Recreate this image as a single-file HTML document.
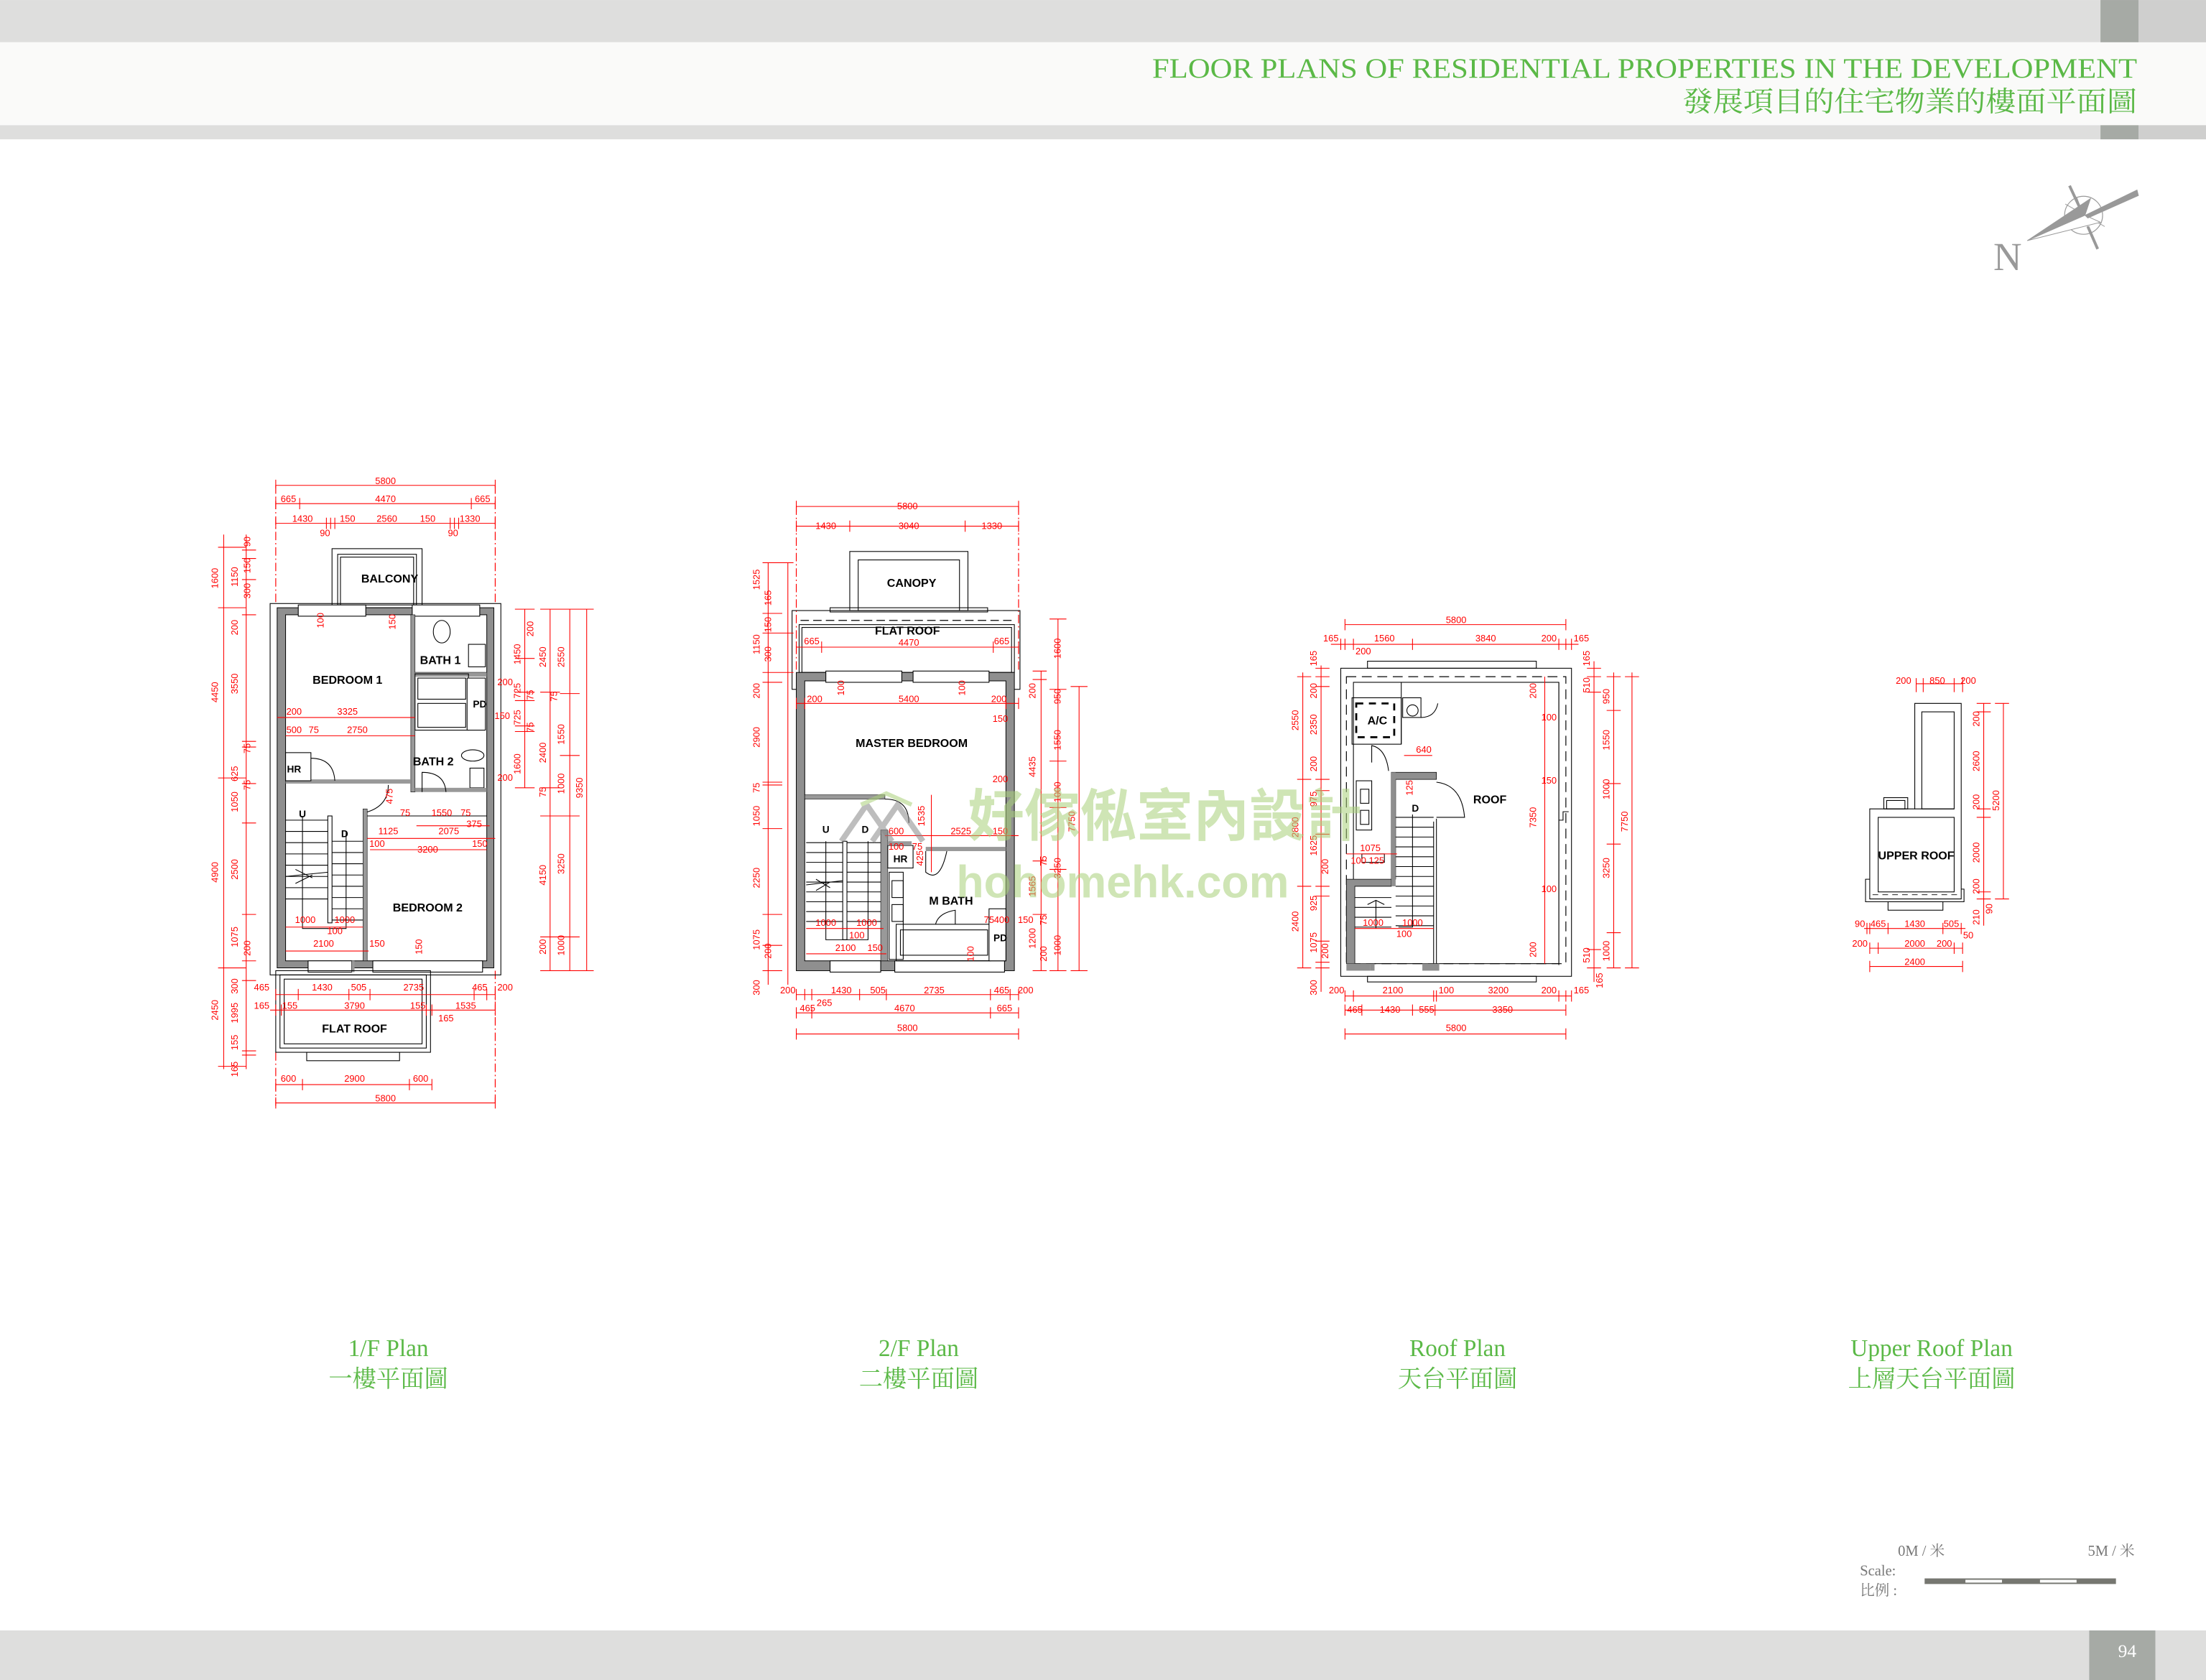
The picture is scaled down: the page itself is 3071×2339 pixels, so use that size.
<!DOCTYPE html>
<html><head><meta charset="utf-8">
<style>
html,body{margin:0;padding:0;background:#fff;}
svg{display:block;}
.d{stroke:#f00;stroke-width:.55;fill:none}
.dd{stroke:#f00;stroke-width:.6;fill:none;stroke-dasharray:6 2 1 2}
.t{fill:#f00;font-family:"Liberation Sans",sans-serif;font-size:6.6px;text-anchor:middle}
.k{stroke:#000;stroke-width:.55;fill:none}
.kf{stroke:#000;stroke-width:.55;fill:#fff}
.lb{font-family:"Liberation Sans",sans-serif;font-weight:bold;font-size:8.2px;text-anchor:middle;fill:#000}
.g{fill:#5bb947;font-family:"Liberation Serif","Noto Serif CJK SC",serif;text-anchor:middle}
.gc{fill:#5bb947;font-family:"Liberation Serif","Noto Serif CJK TC","Noto Sans CJK TC",serif;text-anchor:middle}
</style></head>
<body>
<svg width="3071" height="2339" viewBox="0 0 1568 1194.2" xmlns="http://www.w3.org/2000/svg">
<!-- header -->
<rect x="0" y="0" width="1568" height="30" fill="#dededd"/>
<rect x="0" y="30" width="1568" height="59" fill="#fafaf9"/>
<rect x="0" y="89" width="1568" height="10" fill="#dededd"/>
<rect x="1493" y="0" width="27" height="30" fill="#a6aaa5"/>
<rect x="1520" y="0" width="48" height="30" fill="#cfcfce"/>
<rect x="1493" y="89" width="27" height="10" fill="#a6aaa5"/>
<rect x="1520" y="89" width="48" height="10" fill="#cfcfce"/>
<text x="819" y="55" textLength="700" lengthAdjust="spacingAndGlyphs" style="fill:#5bb947;font-family:'Liberation Serif',serif;font-size:20px">FLOOR PLANS OF RESIDENTIAL PROPERTIES IN THE DEVELOPMENT</text>
<text x="1196" y="79" textLength="323" lengthAdjust="spacingAndGlyphs" style="fill:#5bb947;font-family:'Liberation Serif','Noto Serif CJK TC',serif;font-size:20px">發展項目的住宅物業的樓面平面圖</text>

<!-- compass -->
<g fill="#999" stroke="#999">
<circle cx="1481" cy="153" r="13.5" fill="none" stroke-width=".6"/>
<line x1="1468" y1="145" x2="1496" y2="161" stroke-width=".5"/>
<line x1="1476" y1="140" x2="1486" y2="167" stroke-width=".5"/>
<line x1="1471" y1="132" x2="1478" y2="147" stroke-width="2"/>
<line x1="1484" y1="161" x2="1491" y2="177" stroke-width="2"/>
<polygon points="1441,171 1486,141 1482,153" stroke-width=".4"/>
<polygon points="1441,171 1482,153 1493,158" fill="#fff" stroke-width=".5"/>
<polygon points="1482,153 1519,135 1520,139 1484,155" stroke-width=".4"/>
</g>
<text x="1427" y="192" style="font-family:'Liberation Serif',serif;font-size:28px;fill:#999;text-anchor:middle">N</text>

<!-- ========== 1/F PLAN ========== -->
<g>
<line class="d" x1="196" y1="345" x2="352" y2="345"/>
<line class="d" x1="196" y1="358" x2="352" y2="358"/>
<line class="d" x1="196" y1="372" x2="352" y2="372"/>
<g class="d"><path d="M196 341v6M352 341v6M196 354v8M213 354v8M335 354v8M352 354v8M196 368v8M232 368v8M235 368v8M238 368v8M320 368v8M323 368v8M326 368v8M352 368v8"/></g>
<text class="t" x="274" y="344">5800</text>
<text class="t" x="205" y="357">665</text><text class="t" x="274" y="357">4470</text><text class="t" x="343" y="357">665</text>
<text class="t" x="215" y="371">1430</text><text class="t" x="247" y="371">150</text><text class="t" x="275" y="371">2560</text><text class="t" x="304" y="371">150</text><text class="t" x="334" y="371">1330</text>
<text class="t" x="231" y="381">90</text><text class="t" x="322" y="381">90</text>
<line class="dd" x1="196" y1="345" x2="196" y2="430"/>
<line class="dd" x1="352" y1="345" x2="352" y2="430"/>
<line class="dd" x1="352" y1="690" x2="352" y2="786"/>
<line class="dd" x1="196" y1="748" x2="196" y2="786"/>
<rect class="k" x="236" y="390" width="64" height="42"/>
<rect class="k" x="240" y="394" width="56" height="36"/>
<rect class="k" x="242" y="396" width="52" height="36"/>
<text class="lb" x="277" y="414">BALCONY</text>
<rect x="192" y="429" width="164" height="264" class="k"/>
<rect x="197" y="432" width="154" height="256" fill="#8f8f8f" stroke="#000" stroke-width=".5"/>
<rect x="203" y="437" width="143" height="246" fill="#fff" stroke="#000" stroke-width=".5"/>
<rect x="212" y="430" width="48" height="8" class="kf"/>
<rect x="293" y="430" width="48" height="8" class="kf"/>
<rect x="219" y="683" width="31" height="8" class="kf"/>
<rect x="250" y="683" width="2" height="8" fill="#999"/>
<rect x="265" y="683" width="78" height="8" class="kf"/>
<rect x="292" y="437" width="3" height="126" fill="#999" stroke="#000" stroke-width=".3"/>
<line class="k" x1="295" y1="478" x2="346" y2="478"/>
<rect x="295" y="478" width="51" height="3" fill="#999"/>
<rect x="295" y="479" width="38" height="40" class="k"/>
<rect x="297" y="482" width="34" height="15" class="kf"/>
<rect x="297" y="500" width="34" height="17" class="kf"/>
<rect x="332" y="482" width="13" height="37" class="kf" stroke-width=".8"/>
<text class="lb" x="341" y="503" style="font-size:7px">PD</text>
<rect x="333" y="458" width="12" height="16" class="kf"/>
<ellipse cx="314" cy="449" rx="6" ry="8" class="k"/>
<ellipse cx="336" cy="537" rx="8" ry="4" class="k"/>
<rect x="334" y="546" width="10" height="14" class="kf"/>
<rect x="295" y="560" width="51" height="3" fill="#999"/>
<rect x="203" y="554" width="89" height="3" fill="#999"/>
<rect x="203" y="535" width="18" height="20" class="kf" stroke-width=".9"/>
<text class="lb" x="209" y="549" style="font-size:7px">HR</text>
<path class="k" d="M221 539 q16 0 17 16"/>
<path class="k" d="M300 563 v-14 q16 0 17 14"/>
<path class="k" d="M258 578 q18 -4 18 -20"/>
<rect x="258" y="575" width="3" height="108" fill="#999" stroke="#000" stroke-width=".3"/>
<line class="k" x1="261" y1="580" x2="346" y2="580"/>
<g class="k">
<path d="M203 583h30M203 591h30M203 599h30M203 607h30M203 615h30M203 623h30M203 631h30M203 639h30"/>
<path d="M236 598h22M236 606h22M236 614h22M236 622h22M236 630h22M236 638h22M236 646h22M236 654h22"/>
<rect x="233" y="580" width="3" height="76"/>
<path d="M215 580v80h31v-69"/>
<path d="M203 623l30 -3M210 618l12 6M210 628l12 -6"/>
</g>
<text class="lb" x="247" y="486">BEDROOM 1</text>
<text class="lb" x="313" y="472">BATH 1</text>
<text class="lb" x="308" y="544">BATH 2</text>
<text class="lb" x="215" y="581" style="font-size:7px">U</text>
<text class="lb" x="245" y="595" style="font-size:7px">D</text>
<text class="lb" x="304" y="648">BEDROOM 2</text>
<line class="d" x1="197" y1="510" x2="295" y2="510"/>
<line class="d" x1="203" y1="523" x2="295" y2="523"/>
<text class="t" x="209" y="508">200</text><text class="t" x="247" y="508">3325</text>
<text class="t" x="209" y="521">500</text><text class="t" x="223" y="521">75</text><text class="t" x="254" y="521">2750</text>
<line class="d" x1="296" y1="587" x2="348" y2="587"/>
<text class="t" x="288" y="580">75</text><text class="t" x="314" y="580">1550</text><text class="t" x="331" y="580">75</text><text class="t" x="337" y="588">375</text>
<line class="d" x1="261" y1="596" x2="352" y2="596"/>
<text class="t" x="276" y="593">1125</text><text class="t" x="319" y="593">2075</text>
<line class="d" x1="263" y1="604" x2="346" y2="604"/>
<text class="t" x="268" y="602">100</text><text class="t" x="304" y="606">3200</text><text class="t" x="341" y="602">150</text>
<line class="d" x1="203" y1="659" x2="258" y2="659"/>
<text class="t" x="217" y="656">1000</text><text class="t" x="245" y="656">1000</text><text class="t" x="238" y="664">100</text>
<line class="d" x1="203" y1="676" x2="262" y2="676"/>
<text class="t" x="230" y="673">2100</text><text class="t" x="268" y="673">150</text>
<text class="t" x="359" y="487">200</text><text class="t" x="357" y="511">150</text><text class="t" x="359" y="555">200</text>
<text class="t" transform="translate(230,441) rotate(-90)">100</text>
<text class="t" transform="translate(281,442) rotate(-90)">150</text>
<text class="t" transform="translate(300,673) rotate(-90)">150</text>
<text class="t" transform="translate(279,566) rotate(-90)">475</text>
<line class="d" x1="159" y1="380" x2="159" y2="760"/>
<line class="d" x1="175" y1="380" x2="175" y2="760"/>
<g class="d"><path d="M155 389h20M155 432h20M155 553h20M155 688h20M155 758h20M172 391h10M172 397h10M172 412h10M172 437h10M172 527h10M172 531h10M172 557h10M172 585h10M172 650h10M172 683h10M172 697h10M172 747h10M172 750h10"/></g>
<g>
<text class="t" transform="translate(155,411) rotate(-90)">1600</text>
<text class="t" transform="translate(155,492) rotate(-90)">4450</text>
<text class="t" transform="translate(155,620) rotate(-90)">4900</text>
<text class="t" transform="translate(155,718) rotate(-90)">2450</text>
<text class="t" transform="translate(169,410) rotate(-90)">1150</text>
<text class="t" transform="translate(169,446) rotate(-90)">200</text>
<text class="t" transform="translate(169,486) rotate(-90)">3550</text>
<text class="t" transform="translate(169,550) rotate(-90)">625</text>
<text class="t" transform="translate(169,570) rotate(-90)">1050</text>
<text class="t" transform="translate(169,618) rotate(-90)">2500</text>
<text class="t" transform="translate(169,666) rotate(-90)">1075</text>
<text class="t" transform="translate(169,701) rotate(-90)">300</text>
<text class="t" transform="translate(169,720) rotate(-90)">1995</text>
<text class="t" transform="translate(169,741) rotate(-90)">155</text>
<text class="t" transform="translate(169,760) rotate(-90)">165</text>
<text class="t" transform="translate(178,385) rotate(-90)">90</text>
<text class="t" transform="translate(178,402) rotate(-90)">150</text>
<text class="t" transform="translate(178,420) rotate(-90)">300</text>
<text class="t" transform="translate(178,532) rotate(-90)">75</text>
<text class="t" transform="translate(178,558) rotate(-90)">75</text>
<text class="t" transform="translate(178,674) rotate(-90)">200</text>
</g>
<line class="d" x1="373" y1="433" x2="373" y2="560"/>
<line class="d" x1="391" y1="433" x2="391" y2="690"/>
<line class="d" x1="405" y1="433" x2="405" y2="690"/>
<line class="d" x1="417" y1="433" x2="417" y2="690"/>
<g class="d"><path d="M366 433h14M366 468h14M366 492h14M366 498h14M366 516h14M366 520h14M366 560h14M384 433h14M384 492h14M384 560h14M384 580h14M384 666h14M384 690h14M398 433h14M398 493h14M398 537h14M398 580h14M398 666h14M398 690h14M412 433h10M412 690h10"/></g>
<g>
<text class="t" transform="translate(379,447) rotate(-90)">200</text>
<text class="t" transform="translate(370,465) rotate(-90)">1450</text>
<text class="t" transform="translate(370,491) rotate(-90)">725</text>
<text class="t" transform="translate(379,494) rotate(-90)">75</text>
<text class="t" transform="translate(370,510) rotate(-90)">725</text>
<text class="t" transform="translate(379,517) rotate(-90)">75</text>
<text class="t" transform="translate(370,543) rotate(-90)">1600</text>
<text class="t" transform="translate(388,467) rotate(-90)">2450</text>
<text class="t" transform="translate(388,535) rotate(-90)">2400</text>
<text class="t" transform="translate(388,563) rotate(-90)">75</text>
<text class="t" transform="translate(388,622) rotate(-90)">4150</text>
<text class="t" transform="translate(388,673) rotate(-90)">200</text>
<text class="t" transform="translate(401,467) rotate(-90)">2550</text>
<text class="t" transform="translate(396,495) rotate(-90)">75</text>
<text class="t" transform="translate(401,522) rotate(-90)">1550</text>
<text class="t" transform="translate(401,557) rotate(-90)">1000</text>
<text class="t" transform="translate(401,614) rotate(-90)">3250</text>
<text class="t" transform="translate(401,672) rotate(-90)">1000</text>
<text class="t" transform="translate(414,560) rotate(-90)">9350</text>
</g>
<rect class="k" x="196" y="690" width="110" height="58"/>
<rect class="k" x="199" y="693" width="104" height="52"/>
<rect class="k" x="202" y="696" width="98" height="46"/>
<rect class="k" x="218" y="748" width="66" height="6"/>
<text class="lb" x="252" y="734">FLAT ROOF</text>
<line class="d" x1="196" y1="707" x2="352" y2="707"/>
<line class="d" x1="192" y1="718" x2="352" y2="718"/>
<g class="d"><path d="M196 703v8M212 703v8M248 703v8M263 703v8M337 703v8M346 703v8M352 703v8M196 714v8M200 714v8M303 714v8M307 714v8M352 714v8"/></g>
<text class="t" x="186" y="704">465</text><text class="t" x="229" y="704">1430</text><text class="t" x="255" y="704">505</text><text class="t" x="294" y="704">2735</text><text class="t" x="341" y="704">465</text><text class="t" x="359" y="704">200</text>
<text class="t" x="186" y="717">165</text><text class="t" x="206" y="717">155</text><text class="t" x="252" y="717">3790</text><text class="t" x="297" y="717">155</text><text class="t" x="331" y="717">1535</text><text class="t" x="317" y="726">165</text>
<line class="d" x1="196" y1="771" x2="307" y2="771"/>
<line class="d" x1="196" y1="784" x2="352" y2="784"/>
<g class="d"><path d="M196 767v8M215 767v8M291 767v8M307 767v8M196 780v8M352 780v8"/></g>
<text class="t" x="205" y="769">600</text><text class="t" x="252" y="769">2900</text><text class="t" x="299" y="769">600</text>
<text class="t" x="274" y="783">5800</text>
</g>

<!-- ========== 2/F PLAN ========== -->
<g>
<line class="d" x1="566" y1="360" x2="724" y2="360"/>
<line class="d" x1="566" y1="374" x2="724" y2="374"/>
<g class="d"><path d="M566 356v8M724 356v8M566 370v8M604 370v8M686 370v8M724 370v8"/></g>
<text class="t" x="645" y="362">5800</text>
<text class="t" x="587" y="376">1430</text><text class="t" x="646" y="376">3040</text><text class="t" x="705" y="376">1330</text>
<line class="dd" x1="566" y1="360" x2="566" y2="478"/>
<line class="dd" x1="724" y1="360" x2="724" y2="478"/>
<rect class="k" x="604" y="392" width="84" height="42"/>
<rect class="k" x="610" y="398" width="72" height="36"/>
<text class="lb" x="648" y="417">CANOPY</text>
<rect class="k" x="590" y="432" width="112" height="3"/>
<rect class="k" x="563" y="434" width="162" height="56"/>
<line x1="569" y1="441" x2="721" y2="441" stroke="#000" stroke-width=".6" stroke-dasharray="6 3"/>
<rect class="k" x="568" y="444" width="153" height="34"/>
<rect class="k" x="570" y="446" width="149" height="32"/>
<text class="lb" x="645" y="451">FLAT ROOF</text>
<line class="d" x1="566" y1="460" x2="724" y2="460"/>
<g class="d"><path d="M566 456v8M584 456v8M706 456v8M724 456v8"/></g>
<text class="t" x="577" y="458">665</text><text class="t" x="646" y="459">4470</text><text class="t" x="712" y="458">665</text>
<rect x="566" y="478" width="155" height="212" fill="#8f8f8f" stroke="#000" stroke-width=".5"/>
<rect x="572" y="484" width="143" height="199" fill="#fff" stroke="#000" stroke-width=".5"/>
<rect x="587" y="477" width="54" height="8" class="kf"/>
<rect x="649" y="477" width="54" height="8" class="kf"/>
<rect x="590" y="683" width="36" height="8" class="kf"/>
<rect x="636" y="683" width="78" height="8" class="kf"/>
<rect x="572" y="565" width="57" height="3" fill="#999" stroke="#000" stroke-width=".3"/>
<path class="k" d="M629 568 q17 0 17 17"/>
<rect x="626" y="590" width="5" height="93" fill="#999" stroke="#000" stroke-width=".3"/>
<rect x="631" y="601" width="18" height="16" class="kf" stroke-width=".9"/>
<text class="lb" x="640" y="613" style="font-size:7px">HR</text>
<rect x="631" y="598" width="17" height="3" fill="#999"/>
<rect x="658" y="602" width="57" height="3" fill="#999"/>
<path class="k" d="M658 605v15q10 8 15 -15"/>
<rect x="632" y="620" width="10" height="62" class="k"/>
<rect x="634" y="626" width="8" height="12" class="k"/><rect x="634" y="643" width="8" height="12" class="k"/>
<rect x="637" y="657" width="67" height="26" class="k"/>
<rect x="640" y="661" width="62" height="18" class="k"/>
<rect x="703" y="646" width="12" height="37" class="kf" stroke-width=".9"/>
<text class="lb" x="711" y="669" style="font-size:7px">PD</text>
<path class="k" d="M665 657q2 -8 14 -10v10"/>
<g class="k">
<path d="M573 599h26M573 606h26M573 613h26M573 620h26M573 627h26M573 634h26M573 641h26M573 648h26M573 655h26"/>
<path d="M602 599h24M602 606h24M602 613h24M602 620h24M602 627h24M602 634h24M602 641h24M602 648h24M602 655h24"/>
<rect x="599" y="598" width="3" height="70"/>
<path d="M587 598v70h30v-70"/>
<path d="M573 629l26 -3M580 625l10 6M580 633l10 -6"/>
</g>
<text class="lb" x="648" y="531">MASTER BEDROOM</text>
<text class="lb" x="587" y="592" style="font-size:7px">U</text>
<text class="lb" x="615" y="592" style="font-size:7px">D</text>
<text class="lb" x="676" y="643">M BATH</text>
<line class="d" x1="566" y1="500" x2="724" y2="500"/>
<g class="d"><path d="M566 496v8M572 496v8M715 496v8M724 496v8"/></g>
<text class="t" x="579" y="499">200</text><text class="t" x="646" y="499">5400</text><text class="t" x="710" y="499">200</text>
<text class="t" x="711" y="513">150</text><text class="t" x="711" y="556">200</text>
<line class="d" x1="629" y1="594" x2="724" y2="594"/>
<text class="t" x="637" y="593">600</text><text class="t" x="683" y="593">2525</text><text class="t" x="711" y="593">150</text>
<text class="t" x="637" y="604">100</text><text class="t" x="652" y="604">75</text>
<line class="d" x1="573" y1="660" x2="628" y2="660"/>
<text class="t" x="587" y="658">1000</text><text class="t" x="616" y="658">1000</text><text class="t" x="609" y="667">100</text>
<line class="d" x1="573" y1="678" x2="630" y2="678"/>
<text class="t" x="601" y="676">2100</text><text class="t" x="622" y="676">150</text>
<text class="t" x="703" y="656">75</text><text class="t" x="712" y="656">400</text><text class="t" x="729" y="656">150</text>
<text class="t" transform="translate(600,489) rotate(-90)">100</text>
<text class="t" transform="translate(686,489) rotate(-90)">100</text>
<text class="t" transform="translate(657,580) rotate(-90)">1535</text>
<text class="t" transform="translate(656,610) rotate(-90)">425</text>
<text class="t" transform="translate(692,678) rotate(-90)">100</text>
<line class="d" x1="662" y1="565" x2="662" y2="620"/>
<line class="d" x1="546" y1="400" x2="546" y2="700"/>
<line class="d" x1="560" y1="400" x2="560" y2="700"/>
<g class="d"><path d="M542 400h14M542 436h14M542 450h14M542 478h14M542 485h14M542 556h14M542 558h14M542 589h14M542 650h14M542 672h14M542 690h14M556 400h8M556 450h8M556 478h8"/></g>
<g>
<text class="t" transform="translate(540,412) rotate(-90)">1525</text>
<text class="t" transform="translate(540,458) rotate(-90)">1150</text>
<text class="t" transform="translate(540,491) rotate(-90)">200</text>
<text class="t" transform="translate(540,524) rotate(-90)">2900</text>
<text class="t" transform="translate(540,560) rotate(-90)">75</text>
<text class="t" transform="translate(540,580) rotate(-90)">1050</text>
<text class="t" transform="translate(540,624) rotate(-90)">2250</text>
<text class="t" transform="translate(540,668) rotate(-90)">1075</text>
<text class="t" transform="translate(540,702) rotate(-90)">300</text>
<text class="t" transform="translate(548,425) rotate(-90)">165</text>
<text class="t" transform="translate(548,444) rotate(-90)">150</text>
<text class="t" transform="translate(548,465) rotate(-90)">300</text>
<text class="t" transform="translate(548,676) rotate(-90)">200</text>
</g>
<line class="d" x1="740" y1="477" x2="740" y2="690"/>
<line class="d" x1="752" y1="440" x2="752" y2="690"/>
<line class="d" x1="767" y1="488" x2="767" y2="690"/>
<g class="d"><path d="M734 477h10M734 483h10M734 612h10M734 650h10M734 690h10M746 440h12M746 490h12M746 541h12M746 574h12M746 618h12M746 690h12M761 488h12M761 690h12"/></g>
<g>
<text class="t" transform="translate(736,491) rotate(-90)">200</text>
<text class="t" transform="translate(736,545) rotate(-90)">4435</text>
<text class="t" transform="translate(736,630) rotate(-90)">1565</text>
<text class="t" transform="translate(736,667) rotate(-90)">1200</text>
<text class="t" transform="translate(744,612) rotate(-90)">75</text>
<text class="t" transform="translate(744,654) rotate(-90)">75</text>
<text class="t" transform="translate(744,678) rotate(-90)">200</text>
<text class="t" transform="translate(754,461) rotate(-90)">1600</text>
<text class="t" transform="translate(754,495) rotate(-90)">950</text>
<text class="t" transform="translate(754,526) rotate(-90)">1550</text>
<text class="t" transform="translate(754,563) rotate(-90)">1000</text>
<text class="t" transform="translate(754,617) rotate(-90)">3250</text>
<text class="t" transform="translate(754,672) rotate(-90)">1000</text>
<text class="t" transform="translate(764,584) rotate(-90)">7750</text>
</g>
<line class="d" x1="566" y1="707" x2="724" y2="707"/>
<line class="d" x1="566" y1="720" x2="724" y2="720"/>
<line class="d" x1="566" y1="735" x2="724" y2="735"/>
<g class="d"><path d="M566 703v8M572 703v8M577 703v8M611 703v8M630 703v8M704 703v8M718 703v8M724 703v8M566 716v8M577 716v8M704 716v8M724 716v8M566 731v8M724 731v8"/></g>
<text class="t" x="560" y="706">200</text><text class="t" x="598" y="706">1430</text><text class="t" x="624" y="706">505</text><text class="t" x="664" y="706">2735</text><text class="t" x="712" y="706">465</text><text class="t" x="729" y="706">200</text>
<text class="t" x="586" y="715">265</text>
<text class="t" x="574" y="719">465</text><text class="t" x="643" y="719">4670</text><text class="t" x="714" y="719">665</text>
<text class="t" x="645" y="733">5800</text>
</g>

<!-- ========== ROOF PLAN ========== -->
<g>
<line class="d" x1="956" y1="444" x2="1113" y2="444"/>
<line class="d" x1="946" y1="458" x2="1122" y2="458"/>
<g class="d"><path d="M956 440v8M1113 440v8M953 454v8M956 454v8M962 454v8M1004 454v8M1108 454v8M1113 454v8M1117 454v8"/></g>
<text class="t" x="1035" y="443">5800</text>
<text class="t" x="946" y="456">165</text><text class="t" x="984" y="456">1560</text><text class="t" x="1056" y="456">3840</text><text class="t" x="1101" y="456">200</text><text class="t" x="1124" y="456">165</text><text class="t" x="969" y="465">200</text>
<rect class="k" x="972" y="470" width="120" height="5"/>
<rect class="k" x="953" y="475" width="164" height="219"/>
<path d="M957 481H1113V685H957Z" fill="none" stroke="#000" stroke-width=".6" stroke-dasharray="7 4"/>
<rect class="k" x="962" y="485" width="146" height="200"/>
<rect class="k" x="972" y="694" width="120" height="4"/>
<rect class="k" x="961" y="496" width="35" height="33"/>
<rect x="964" y="500" width="27" height="24" fill="none" stroke="#000" stroke-width="1.4" stroke-dasharray="5 4"/>
<text class="lb" x="979" y="515">A/C</text>
<line class="k" x1="996" y1="485" x2="996" y2="529"/>
<rect class="k" x="997" y="496" width="13" height="14"/>
<circle class="k" cx="1004" cy="505" r="4"/>
<path class="k" d="M1010 510q10 0 12 -10"/>
<path d="M989 549h32v5h-29v71h-1v0h-2v5h-26v55h-6v-60h32z" fill="#8f8f8f" stroke="#000" stroke-width=".4"/>
<rect x="989" y="549" width="3" height="81" fill="#8f8f8f"/>
<rect x="957" y="685" width="17" height="5" fill="#8f8f8f"/>
<rect x="974" y="685" width="3" height="5" fill="#8f8f8f"/>
<rect x="1011" y="685" width="12" height="5" fill="#8f8f8f"/>
<path class="k" d="M1021 556q18 2 20 25h-20"/>
<path class="k" d="M975 542v-12q10 2 12 18"/>
<rect class="k" x="964" y="555" width="11" height="35"/>
<rect class="k" x="967" y="561" width="6" height="10"/><rect class="k" x="967" y="576" width="6" height="10"/>
<rect class="k" x="968" y="607" width="16" height="6"/>
<g class="k">
<path d="M992 581h27M992 588h27M992 595h27M992 602h27M992 609h27M992 616h27M992 623h27M992 630h27M992 637h27M992 644h27M992 651h27M992 658h27"/>
<path d="M963 638h26M963 645h26M963 652h26M963 659h26"/>
<path d="M1004 579v80h-10"/>
<path d="M1019 584v101M1021 582v103"/>
<path d="M978 640v20"/>
<path d="M972 643l6 -3 6 3"/>
</g>
<text class="lb" x="1006" y="577" style="font-size:7px">D</text>
<text class="lb" x="1059" y="571">ROOF</text>
<line class="d" x1="998" y1="537" x2="1018" y2="537"/>
<text class="t" x="1012" y="535">640</text>
<line class="d" x1="957" y1="607" x2="993" y2="607"/>
<text class="t" x="974" y="605">1075</text><text class="t" x="972" y="614">100 125</text>
<line class="d" x1="963" y1="660" x2="1019" y2="660"/>
<text class="t" x="976" y="658">1000</text><text class="t" x="1004" y="658">1000</text><text class="t" x="998" y="666">100</text>
<text class="t" transform="translate(1004,560) rotate(-90)">125</text>
<line class="d" x1="1098" y1="481" x2="1098" y2="685"/>
<text class="t" transform="translate(1092,491) rotate(-90)">200</text>
<text class="t" transform="translate(1092,581) rotate(-90)">7350</text>
<text class="t" transform="translate(1092,675) rotate(-90)">200</text>
<text class="t" x="1101" y="512">100</text><text class="t" x="1101" y="557">150</text><text class="t" x="1101" y="634">100</text>
<path class="k" d="M1108 485v98h3v-6h4M1108 583v103"/>
<line class="d" x1="926" y1="478" x2="926" y2="688"/>
<line class="d" x1="939" y1="473" x2="939" y2="705"/>
<g class="d"><path d="M922 481h10M922 554h10M922 630h10M922 688h10M935 475h10M935 481h10M935 488h10M935 554h10M935 562h10M935 593h10M935 630h10M935 637h10M935 669h10M935 684h10M935 688h10"/></g>
<g>
<text class="t" transform="translate(923,512) rotate(-90)">2550</text>
<text class="t" transform="translate(923,588) rotate(-90)">2800</text>
<text class="t" transform="translate(923,655) rotate(-90)">2400</text>
<text class="t" transform="translate(936,468) rotate(-90)">165</text>
<text class="t" transform="translate(936,491) rotate(-90)">200</text>
<text class="t" transform="translate(936,515) rotate(-90)">2350</text>
<text class="t" transform="translate(936,543) rotate(-90)">200</text>
<text class="t" transform="translate(936,568) rotate(-90)">975</text>
<text class="t" transform="translate(936,601) rotate(-90)">1625</text>
<text class="t" transform="translate(944,616) rotate(-90)">200</text>
<text class="t" transform="translate(936,642) rotate(-90)">925</text>
<text class="t" transform="translate(936,670) rotate(-90)">1075</text>
<text class="t" transform="translate(944,676) rotate(-90)">200</text>
<text class="t" transform="translate(936,702) rotate(-90)">300</text>
</g>
<line class="d" x1="1133" y1="470" x2="1133" y2="698"/>
<line class="d" x1="1147" y1="478" x2="1147" y2="688"/>
<line class="d" x1="1160" y1="478" x2="1160" y2="688"/>
<g class="d"><path d="M1128 475h10M1128 481h10M1128 492h10M1128 675h10M1128 688h10M1142 481h10M1142 505h10M1142 557h10M1142 600h10M1142 663h10M1142 688h10M1155 481h10M1155 688h10"/></g>
<g>
<text class="t" transform="translate(1130,468) rotate(-90)">165</text>
<text class="t" transform="translate(1130,487) rotate(-90)">510</text>
<text class="t" transform="translate(1130,679) rotate(-90)">510</text>
<text class="t" transform="translate(1139,697) rotate(-90)">165</text>
<text class="t" transform="translate(1144,495) rotate(-90)">950</text>
<text class="t" transform="translate(1144,526) rotate(-90)">1550</text>
<text class="t" transform="translate(1144,561) rotate(-90)">1000</text>
<text class="t" transform="translate(1144,617) rotate(-90)">3250</text>
<text class="t" transform="translate(1144,676) rotate(-90)">1000</text>
<text class="t" transform="translate(1157,584) rotate(-90)">7750</text>
</g>
<line class="d" x1="956" y1="708" x2="1117" y2="708"/>
<line class="d" x1="956" y1="718" x2="1113" y2="718"/>
<line class="d" x1="956" y1="735" x2="1113" y2="735"/>
<g class="d"><path d="M956 704v8M962 704v8M1019 704v8M1021 704v8M1108 704v8M1113 704v8M1117 704v8M956 714v8M968 714v8M1004 714v8M1020 714v8M1113 714v8M956 731v8M1113 731v8"/></g>
<text class="t" x="950" y="706">200</text><text class="t" x="990" y="706">2100</text><text class="t" x="1028" y="706">100</text><text class="t" x="1065" y="706">3200</text><text class="t" x="1101" y="706">200</text><text class="t" x="1124" y="706">165</text>
<text class="t" x="963" y="720">465</text><text class="t" x="988" y="720">1430</text><text class="t" x="1014" y="720">555</text><text class="t" x="1068" y="720">3350</text>
<text class="t" x="1035" y="733">5800</text>
</g>

<!-- ========== UPPER ROOF ========== -->
<g>
<line class="d" x1="1362" y1="486" x2="1395" y2="486"/>
<g class="d"><path d="M1362 482v10M1367 482v10M1389 482v10M1395 482v10"/></g>
<text class="t" x="1353" y="486">200</text><text class="t" x="1377" y="486">850</text><text class="t" x="1399" y="486">200</text>
<path class="k" d="M1361 500h33v139h-65v-64h32z"/>
<rect class="k" x="1366" y="506" width="23" height="69"/>
<line class="k" x1="1361" y1="575" x2="1389" y2="575"/>
<rect class="k" x="1335" y="581" width="54" height="53"/>
<rect class="k" x="1339" y="567" width="17" height="8"/>
<rect class="k" x="1341" y="569" width="13" height="6"/>
<path class="k" d="M1329 625h-3v16h70v-9h-2"/>
<line x1="1331" y1="636" x2="1393" y2="636" stroke="#000" stroke-width=".5" stroke-dasharray="4 3"/>
<rect class="k" x="1342" y="641" width="39" height="6"/>
<text class="lb" x="1362" y="611">UPPER ROOF</text>
<line class="d" x1="1410" y1="500" x2="1410" y2="658"/>
<line class="d" x1="1424" y1="500" x2="1424" y2="639"/>
<g class="d"><path d="M1405 500h10M1405 506h10M1405 575h10M1405 581h10M1405 634h10M1405 639h10M1418 500h10M1418 639h10"/></g>
<text class="t" transform="translate(1407,511) rotate(-90)">200</text>
<text class="t" transform="translate(1407,541) rotate(-90)">2600</text>
<text class="t" transform="translate(1407,570) rotate(-90)">200</text>
<text class="t" transform="translate(1407,606) rotate(-90)">2000</text>
<text class="t" transform="translate(1407,630) rotate(-90)">200</text>
<text class="t" transform="translate(1407,652) rotate(-90)">210</text>
<text class="t" transform="translate(1416,646) rotate(-90)">90</text>
<text class="t" transform="translate(1421,569) rotate(-90)">5200</text>
<line class="d" x1="1325" y1="660" x2="1397" y2="660"/>
<line class="d" x1="1329" y1="674" x2="1395" y2="674"/>
<line class="d" x1="1329" y1="687" x2="1395" y2="687"/>
<g class="d"><path d="M1327 656v8M1329 656v8M1342 656v8M1381 656v8M1394 656v8M1329 670v8M1335 670v8M1389 670v8M1395 670v8M1329 683v8M1395 683v8"/></g>
<text class="t" x="1322" y="659">90</text><text class="t" x="1335" y="659">465</text><text class="t" x="1361" y="659">1430</text><text class="t" x="1387" y="659">505</text><text class="t" x="1399" y="667">50</text>
<text class="t" x="1322" y="673">200</text><text class="t" x="1361" y="673">2000</text><text class="t" x="1382" y="673">200</text>
<text class="t" x="1361" y="686">2400</text>
</g>

<!-- watermark -->
<g opacity=".55">
<path d="M598 598l18 -26 18 26M620 598l18 -26 18 26" fill="none" stroke="#888" stroke-width="4"/>
<path d="M612 572l18 -8 18 8" fill="none" stroke="#aad07a" stroke-width="3"/>
<text x="828" y="594" style="font-family:'Liberation Sans','Noto Sans CJK TC',sans-serif;font-weight:bold;font-size:40px;fill:#a8d07a;text-anchor:middle">好傢俬室內設計</text>
<text x="798" y="638" style="font-family:'Liberation Sans',sans-serif;font-weight:bold;font-size:32px;fill:#a8d07a;text-anchor:middle">hohomehk.com</text>
</g>

<!-- captions -->
<text class="g" x="276" y="964" style="font-size:17px">1/F Plan</text>
<text class="gc" x="276" y="986" style="font-size:17px">一樓平面圖</text>
<text class="g" x="653" y="964" style="font-size:17px">2/F Plan</text>
<text class="gc" x="653" y="986" style="font-size:17px">二樓平面圖</text>
<text class="g" x="1036" y="964" style="font-size:17px">Roof Plan</text>
<text class="gc" x="1036" y="986" style="font-size:17px">天台平面圖</text>
<text class="g" x="1373" y="964" style="font-size:17px">Upper Roof Plan</text>
<text class="gc" x="1373" y="986" style="font-size:17px">上層天台平面圖</text>

<!-- scale -->
<g style="font-family:'Liberation Serif','Noto Serif CJK SC',serif;font-size:10.5px;fill:#777">
<text x="1349" y="1106">0M / 米</text>
<text x="1484" y="1106">5M / 米</text>
<text x="1322" y="1120">Scale:</text>
<text x="1322" y="1134">比例 :</text>
</g>
<rect x="1368" y="1122" width="136" height="4" fill="#767771"/>
<rect x="1397" y="1123" width="26" height="2" fill="#fff"/>
<rect x="1450" y="1123" width="26" height="2" fill="#fff"/>

<!-- footer -->
<rect x="0" y="1159" width="1568" height="36" fill="#dededd"/>
<rect x="1485" y="1159" width="47" height="36" fill="#a6aaa5"/>
<text x="1512" y="1178" style="font-family:'Liberation Serif',serif;font-size:13px;fill:#fff;text-anchor:middle">94</text>
</svg>
</body></html>
